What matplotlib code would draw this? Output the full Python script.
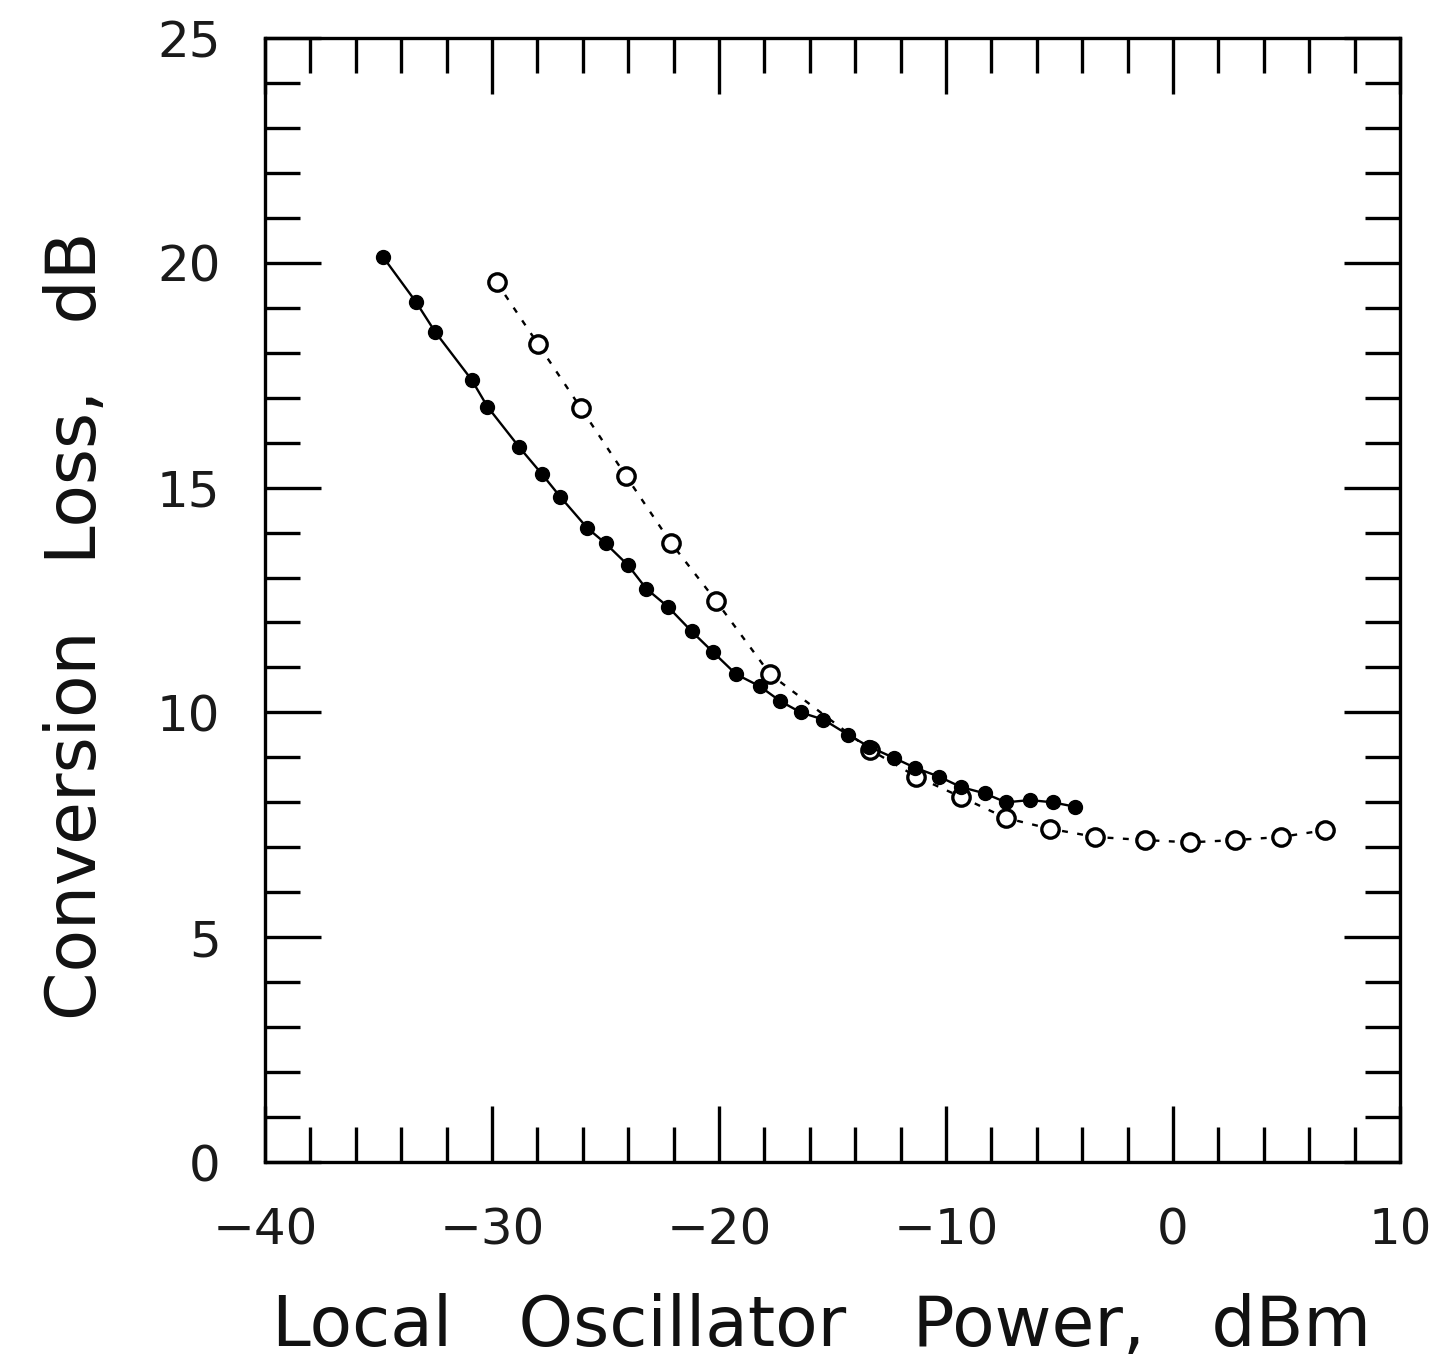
import matplotlib
matplotlib.use("Agg")
import matplotlib.pyplot as plt
from matplotlib.ticker import MultipleLocator

# Mixer conversion loss versus local-oscillator drive
lo_power_a = [-34.8, -33.35, -32.5, -30.9, -30.2, -28.8, -27.8, -27.0, -25.8, -25.0,
              -24.0, -23.2, -22.25, -21.2, -20.26, -19.25, -18.2, -17.3, -16.4, -15.4,
              -14.3, -13.4, -12.3, -11.37, -10.3, -9.34, -8.3, -7.36, -6.3, -5.3, -4.3]
loss_a = [20.13, 19.13, 18.46, 17.4, 16.8, 15.9, 15.3, 14.8, 14.1, 13.76,
          13.27, 12.75, 12.35, 11.8, 11.34, 10.85, 10.58, 10.25, 10.0, 9.84,
          9.5, 9.24, 8.99, 8.77, 8.57, 8.34, 8.2, 8.0, 8.05, 8.0, 7.9]

lo_power_b = [-29.8, -27.97, -26.1, -24.1, -22.1, -20.13, -17.75, -13.35, -11.3, -9.34,
              -7.36, -5.4, -3.42, -1.23, 0.75, 2.73, 4.76, 6.7]
loss_b = [19.57, 18.19, 16.78, 15.26, 13.76, 12.48, 10.85, 9.17, 8.57, 8.12,
          7.65, 7.41, 7.23, 7.16, 7.11, 7.16, 7.23, 7.38]

x_ticks = [-40, -30, -20, -10, 0, 10]
x_tick_labels = ["\u221240", "\u221230", "\u221220", "\u221210", "0", "10"]
y_ticks = [0, 5, 10, 15, 20, 25]

plt.rcParams["font.family"] = ["DejaVu Sans"]

fig = plt.figure(figsize=(14.37, 13.59), dpi=100)
ax = fig.add_axes([265 / 1437, 1 - 1162 / 1359, 1135 / 1437, 1124 / 1359])

ax.plot(lo_power_a, loss_a, color="black", lw=1.7, marker="o", ms=10,
        mfc="black", mec="black", zorder=3)
ax.plot(lo_power_b, loss_b, color="black", lw=1.7, ls=(0, (2.5, 4)), marker="o",
        ms=12.5, mfc="white", mec="black", mew=2.4, zorder=2)

ax.set_xlim(-40, 10)
ax.set_ylim(0, 25)
ax.set_xticks(x_ticks)
ax.set_xticklabels(x_tick_labels)
ax.set_yticks(y_ticks)
ax.xaxis.set_minor_locator(MultipleLocator(2))
ax.yaxis.set_minor_locator(MultipleLocator(1))

ax.tick_params(which="both", direction="in", top=True, right=True, width=2.4,
               color="black")
ax.tick_params(which="major", length=40, labelsize=36, pad=32)
ax.tick_params(which="minor", length=25)
for lab in ax.get_xticklabels() + ax.get_yticklabels():
    lab.set_color("#1a1a1a")

for sp in ax.spines.values():
    sp.set_linewidth(2.4)

ax.set_xlabel("Local   Oscillator   Power,   dBm", fontsize=50, color="#111111")
ax.set_ylabel("Conversion   Loss,   dB", fontsize=50, color="#111111")
ax.xaxis.set_label_coords(0.49, -0.1166)
ax.yaxis.set_label_coords(-0.137, 0.477)

fig.savefig("out.png", dpi=100, facecolor="white")
